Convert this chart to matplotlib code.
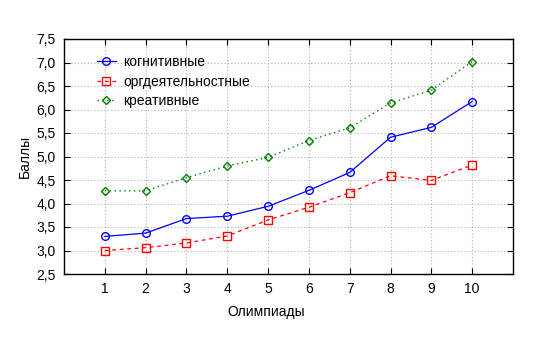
import matplotlib
matplotlib.use('Agg')
import matplotlib.pyplot as plt

plt.rcParams['font.family'] = ['Liberation Sans', 'DejaVu Sans']

# data
olymp = [1, 2, 3, 4, 5, 6, 7, 8, 9, 10]
cognitive = [3.30, 3.37, 3.68, 3.73, 3.94, 4.28, 4.66, 5.41, 5.62, 6.17]
orgactivity = [3.00, 3.06, 3.16, 3.31, 3.65, 3.92, 4.23, 4.59, 4.49, 4.82]
creative = [4.27, 4.27, 4.55, 4.80, 4.98, 5.34, 5.61, 6.14, 6.41, 7.02]
yticks = [2.5, 3.0, 3.5, 4.0, 4.5, 5.0, 5.5, 6.0, 6.5, 7.0, 7.5]

fig = plt.figure(figsize=(5.41, 3.53), dpi=100)
ax = fig.add_axes([64 / 541, 1 - 274 / 353, 449 / 541, 235 / 353])

ax.plot(olymp, cognitive, color='blue', lw=0.9, ls='-', marker='o', ms=5.5,
        mfc='none', mec='blue', mew=1.0, label='когнитивные')
ax.plot(olymp, orgactivity, color='red', lw=0.9, ls=(0, (3, 3)), marker='s', ms=5.5,
        mfc='none', mec='red', mew=1.0, label='оргдеятельностные')
ax.plot(olymp, creative, color='green', lw=1.0, ls=(0, (1, 2.5)), marker='D', ms=4.5,
        mfc='none', mec='green', mew=1.0, label='креативные')

ax.set_xlim(0, 11)
ax.set_ylim(2.5, 7.5)
ax.set_xticks(olymp)
ax.set_yticks(yticks)
ax.set_yticklabels([f'{v:.1f}'.replace('.', ',') for v in yticks])
ax.tick_params(direction='in', length=4, width=0.8, top=True, right=True,
               labelsize=10, pad=6)
ax.grid(True, color='#b0b0b0', ls=(0, (1, 2)), lw=0.8)
for s in ax.spines.values():
    s.set_linewidth(1.0)

ax.set_ylabel('Баллы', fontsize=10, labelpad=3)
fig.text(266 / 541, 1 - 312 / 353, 'Олимпиады', ha='center', va='center', fontsize=10)

ax.legend(loc='upper left', frameon=False, fontsize=10, handlelength=1.4,
          bbox_to_anchor=(0.045, 0.985), labelspacing=0.4, handletextpad=0.5)

fig.savefig('out.png', dpi=100)
